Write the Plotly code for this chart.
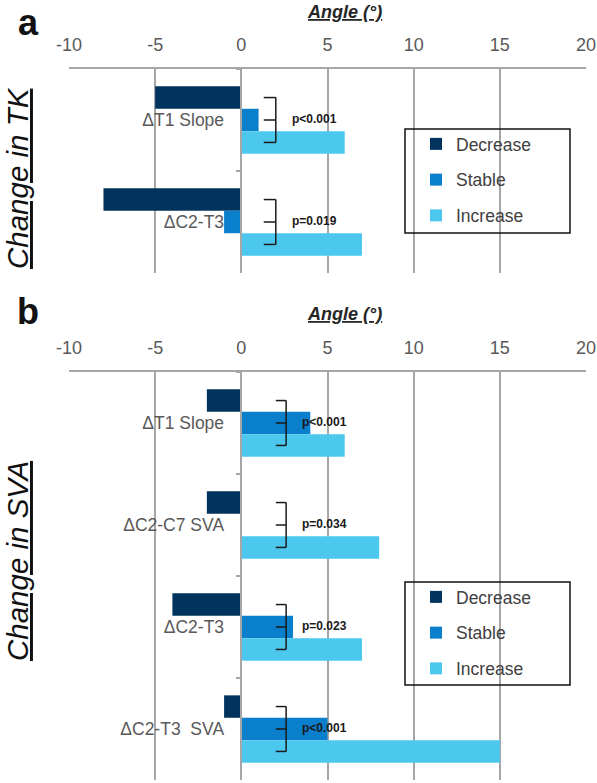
import plotly.graph_objects as go

W, H = 597, 783

# ---------------- data ----------------
series_names = ["Decrease", "Stable", "Increase"]
series_colors = ["#00335e", "#0a7fcc", "#4cc8ef"]

tk_categories = ["ΔT1 Slope", "ΔC2-T3"]
tk_decrease = [-5, -8]
tk_stable = [1, -1]
tk_increase = [6, 7]
tk_pvalues = ["p<0.001", "p=0.019"]

sva_categories = ["ΔT1 Slope", "ΔC2-C7 SVA", "ΔC2-T3", "ΔC2-T3  SVA"]
sva_decrease = [-2, -2, -4, -1]
sva_stable = [4, 0, 3, 5]
sva_increase = [6, 8, 7, 15]
sva_pvalues = ["p<0.001", "p=0.034", "p=0.023", "p<0.001"]

x_ticks = [-10, -5, 0, 5, 10, 15, 20]
x_tick_labels = ["-10", "-5", "0", "5", "10", "15", "20"]
x_range = [-10, 20]

# ---------------- layout helpers ----------------
GRID = "#a6a6a6"
TICKC = "#595959"
FONT = "Liberation Sans, Arial, sans-serif"
BARGAP = 0.34

XL, XR = 69 / W, 586 / W


def py(p):
    return 1 - p / H


def px(p):
    return p / W


top_dom = [py(273), py(69)]
bot_dom = [py(780), py(372)]
zero_pos = XL + (XR - XL) * (0 - x_range[0]) / (x_range[1] - x_range[0])

fig = go.Figure()

panels = [
    dict(cats=tk_categories, vals=[tk_decrease, tk_stable, tk_increase], xa="x", ya="y",
         leg="legend", pv=tk_pvalues, br=(1.3, 2.0)),
    dict(cats=sva_categories, vals=[sva_decrease, sva_stable, sva_increase], xa="x2", ya="y2",
         leg="legend2", pv=sva_pvalues, br=(2.0, 2.6)),
]

shapes = []
annotations = []
for p in panels:
    for name, col, v in zip(series_names, series_colors, p["vals"]):
        fig.add_trace(go.Bar(
            y=p["cats"], x=v, orientation="h", name=name,
            marker=dict(color=col, line=dict(width=0)),
            xaxis=p["xa"], yaxis=p["ya"], legend=p["leg"],
            legendgroup=p["leg"] + name,
        ))
    w = (1 - BARGAP) / 3
    xl, xr = p["br"]
    for i, txt in enumerate(p["pv"]):
        ys = [i - w, i, i + w]
        line = dict(color="#1a1a1a", width=1.5)
        shapes.append(dict(type="line", xref=p["xa"], yref=p["ya"], x0=xr, x1=xr, y0=ys[0], y1=ys[2], line=line))
        for yy in ys:
            shapes.append(dict(type="line", xref=p["xa"], yref=p["ya"], x0=xl, x1=xr, y0=yy, y1=yy, line=line))
        annotations.append(dict(xref=p["xa"], yref=p["ya"], x=xr + 0.8, y=i, text="<b>%s</b>" % txt,
                                showarrow=False, xanchor="left", yanchor="middle", yshift=1,
                                font=dict(family=FONT, size=12, color="#1a1a1a")))

# legend boxes
for (x0, x1, y0, y1) in [(405, 570, 129, 233), (405, 570, 582, 685)]:
    shapes.append(dict(type="rect", xref="paper", yref="paper", x0=px(x0), x1=px(x1), y0=py(y1), y1=py(y0),
                       line=dict(color="#111111", width=1.5), fillcolor="rgba(0,0,0,0)", layer="above"))

# titles
for ytxt, lab, ylab, ttl, yttl in [(12, "a", 22, "Change in TK", 178), (314, "b", 311, "Change in SVA", 561)]:
    annotations.append(dict(xref="paper", yref="paper", x=px(344), y=py(ytxt), text="<b><i>Angle (°)</i></b>",
                            showarrow=False, xanchor="center", yanchor="middle",
                            font=dict(family=FONT, size=18, color="#262626", lineposition="under")))
    annotations.append(dict(xref="paper", yref="paper", x=px(28), y=py(ylab), text="<b>%s</b>" % lab,
                            showarrow=False, xanchor="center", yanchor="middle",
                            font=dict(family=FONT, size=36, color="#111111")))
    annotations.append(dict(xref="paper", yref="paper", x=px(17), y=py(yttl), text="<i>%s</i>" % ttl,
                            showarrow=False, xanchor="center", yanchor="middle", textangle=-90,
                            font=dict(family=FONT, size=29.5, color="#111111", lineposition="under")))

xaxis_common = dict(range=x_range, tickvals=x_ticks, ticktext=x_tick_labels, side="top", showline=True,
                    linecolor=GRID, linewidth=1.5, automargin=False,
                    showgrid=True, gridcolor=GRID, gridwidth=1.5, zeroline=False, ticks="",
                    tickfont=dict(family=FONT, size=18, color=TICKC), ticklabelstandoff=9, fixedrange=True)
yaxis_common = dict(type="category", autorange="reversed", anchor="free", position=zero_pos, automargin=False,
                    showline=True, linecolor=GRID, linewidth=1.5, ticks="outside", ticklen=5, tickcolor=GRID,
                    tickwidth=1.5, tickson="boundaries", showgrid=False, zeroline=False,
                    tickfont=dict(family=FONT, size=17.5, color=TICKC), ticklabelstandoff=13)

legend_common = dict(bgcolor="rgba(0,0,0,0)", borderwidth=0, font=dict(family=FONT, size=17.5, color="#404040"),
                     xanchor="left", yanchor="top", tracegroupgap=10, itemwidth=30)

fig.update_layout(
    width=W, height=H, margin=dict(l=0, r=0, t=0, b=0, autoexpand=False),
    paper_bgcolor="white", plot_bgcolor="white",
    barmode="group", bargap=BARGAP, bargroupgap=0,
    xaxis=dict(domain=[XL, XR], anchor="y", **xaxis_common),
    yaxis=dict(domain=top_dom, categoryarray=tk_categories, **yaxis_common),
    xaxis2=dict(domain=[XL, XR], anchor="y2", **xaxis_common),
    yaxis2=dict(domain=bot_dom, categoryarray=sva_categories, **yaxis_common),
    legend=dict(x=px(416), y=py(126), **legend_common),
    legend2=dict(x=px(416), y=py(579), **legend_common),
    shapes=shapes, annotations=annotations,
    showlegend=True,
)

fig.write_html("out.html", config={"displayModeBar": False},
               post_script="document.body.style.margin='0px';")
